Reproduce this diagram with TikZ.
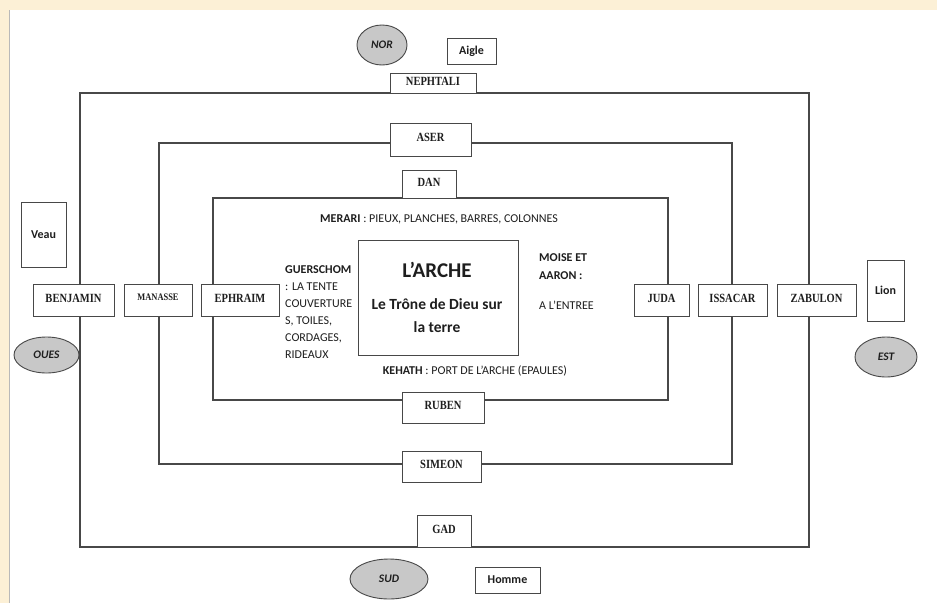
\documentclass[tikz,border=0pt]{standalone}
\usepackage{fontspec}
\setmainfont{Carlito}
\newfontfamily\tribefont[FakeStretch=0.84]{Liberation Serif}
\usetikzlibrary{shapes.geometric}
\definecolor{bgbeige}{RGB}{252,240,214}
\definecolor{linecol}{RGB}{72,72,72}
\definecolor{ellfill}{RGB}{200,200,200}
\definecolor{txtcol}{RGB}{30,30,30}
\tikzset{
  wall/.style={draw=linecol, line width=1.1pt},
  tribebox/.style={draw=linecol, fill=white, line width=1pt, inner sep=0pt, text=txtcol, text depth=3.5pt,
    font=\tribefont\bfseries\fontsize{12.5}{14}\selectfont},
  tagbox/.style={draw=linecol, fill=white, line width=1pt, inner sep=0pt, text=txtcol,
    font=\bfseries\fontsize{12}{14}\selectfont},
  direll/.style={ellipse, draw=linecol, fill=ellfill, line width=0.9pt, inner sep=0pt, text=txtcol,
    font=\bfseries\itshape\fontsize{11.5}{13}\selectfont},
  note/.style={font=\fontsize{12}{14}\selectfont, text=txtcol, inner sep=0pt},
}
\begin{document}
\begin{tikzpicture}[x=1pt,y=-1pt]
\useasboundingbox (0,0) rectangle (937,603);
\fill[bgbeige] (0,0) rectangle (937,603);
\fill[white] (10,10) rectangle (937,603);
\draw[gray!55, line width=1pt] (9,10) -- (9,603);
% camp walls
\draw[wall] (80,93) rectangle (809,547);
\draw[wall] (159,143) rectangle (732,464);
\draw[wall] (213,198) rectangle (668,400);
% north
\node[direll, minimum width=50pt, minimum height=40pt] (nor) at (382,45) {NOR};
\node[tagbox, minimum width=49pt, minimum height=26pt] (aigle) at (471.5,51) {Aigle};
\node[tribebox, minimum width=86pt, minimum height=20pt] (nephtali) at (433,83) {NEPHTALI};
\node[tribebox, minimum width=81pt, minimum height=33pt] (aser) at (430.5,139.5) {ASER};
\node[tribebox, minimum width=54pt, minimum height=28pt] (dan) at (429,184) {DAN};
% south
\node[tribebox, minimum width=82pt, minimum height=31pt] (ruben) at (443,407.5) {RUBEN};
\node[tribebox, minimum width=79pt, minimum height=31pt] (simeon) at (441.5,466.5) {SIMEON};
\node[tribebox, minimum width=54pt, minimum height=32pt] (gad) at (444,531) {GAD};
\node[direll, minimum width=78pt, minimum height=40pt] (sud) at (389,579) {SUD};
\node[tagbox, minimum width=65pt, minimum height=26pt] (homme) at (507.5,580) {Homme};
% west
\node[tagbox, minimum width=45pt, minimum height=65pt] (veau) at (43.5,234.5) {Veau};
\node[tribebox, minimum width=81pt, minimum height=32pt] (benjamin) at (73.5,300) {BENJAMIN};
\node[tribebox, minimum width=68pt, minimum height=32pt, text depth=6.5pt,
  font=\tribefont\bfseries\fontsize{10}{11}\selectfont] (manasse) at (158,300) {MANASSE};
\node[tribebox, minimum width=78pt, minimum height=32pt] (ephraim) at (240,300) {EPHRAIM};
\node[direll, minimum width=65pt, minimum height=36pt] (oues) at (46.5,355) {OUES};
% east
\node[tribebox, minimum width=55pt, minimum height=32pt] (juda) at (661.5,300) {JUDA};
\node[tribebox, minimum width=69pt, minimum height=32pt] (issacar) at (732.5,300) {ISSACAR};
\node[tribebox, minimum width=79pt, minimum height=32pt] (zabulon) at (816.5,300) {ZABULON};
\node[tagbox, minimum width=37pt, minimum height=61pt] (lion) at (885.5,290.5) {Lion};
\node[direll, minimum width=62pt, minimum height=40pt] (est) at (886,357) {EST};
% ark
\node[draw=linecol, fill=white, line width=1pt, minimum width=160pt, minimum height=115pt] (arche) at (438,297.5) {};
\node[note, font=\bfseries\fontsize{21}{24}\selectfont] (archetitle) at (437,270) {L’ARCHE};
\node[note, font=\bfseries\fontsize{15.5}{23}\selectfont, align=center] (trone) at (437,316) {Le Trône de Dieu sur\\la terre};
% Levite notes
\node[note] (merari) at (439,219) {\textbf{MERARI} : PIEUX, PLANCHES, BARRES, COLONNES};
\node[note] (kehath) at (475,371) {\textbf{KEHATH} : PORT DE L’ARCHE (EPAULES)};
\node[note, anchor=west, align=left, font=\fontsize{12}{17}\selectfont] (guerschom) at (285,312.5)
  {\textbf{GUERSCHOM}\\: LA TENTE\\COUVERTURE\\S, TOILES,\\CORDAGES,\\RIDEAUX};
\node[note, anchor=west] (moise) at (539,258) {\textbf{MOISE ET}};
\node[note, anchor=west] (aaron) at (539,276) {\textbf{AARON :}};
\node[note, anchor=west] (entree) at (539,305) {A L’ENTREE};
\end{tikzpicture}
\end{document}
